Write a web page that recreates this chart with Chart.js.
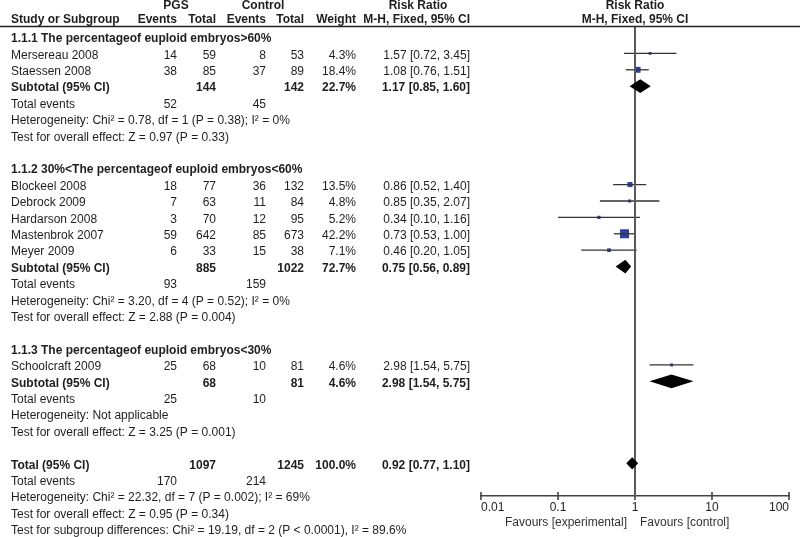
<!DOCTYPE html>
<html lang="en">
<head>
  <meta charset="UTF-8" />
  <title>Forest plot - PGS vs Control</title>
  <script src="https://cdn.jsdelivr.net/npm/chart.js@4.4.0/dist/chart.umd.min.js"></script>
  <style>
    html, body { margin: 0; padding: 0; background: #fff; }
    #wrap { width: 800px; height: 537px; }
  </style>
</head>
<body>
<div id="wrap"><canvas id="forest" width="800" height="537"></canvas></div>

<script>
// ---- data ----
const groupTitles = [
  '1.1.1 The percentageof euploid embryos>60%',
  '1.1.2 30%<The percentageof euploid embryos<60%',
  '1.1.3 The percentageof euploid embryos<30%'
];
const studies = ['Mersereau 2008', 'Staessen 2008', 'Blockeel 2008', 'Debrock 2009',
                 'Hardarson 2008', 'Mastenbrok 2007', 'Meyer 2009', 'Schoolcraft 2009'];
const groupOf    = [0, 0, 1, 1, 1, 1, 1, 2];
const pgsEvents  = [14, 38, 18, 7, 3, 59, 6, 25];
const pgsTotal   = [59, 85, 77, 63, 70, 642, 33, 68];
const ctrlEvents = [8, 37, 36, 11, 12, 85, 15, 10];
const ctrlTotal  = [53, 89, 132, 84, 95, 673, 38, 81];
const weights    = [4.3, 18.4, 13.5, 4.8, 5.2, 42.2, 7.1, 4.6];
const rr         = [1.57, 1.08, 0.86, 0.85, 0.34, 0.73, 0.46, 2.98];
const rrLow      = [0.72, 0.76, 0.52, 0.35, 0.10, 0.53, 0.20, 1.54];
const rrHigh     = [3.45, 1.51, 1.40, 2.07, 1.16, 1.00, 1.05, 5.75];

const subPgsTotal   = [144, 885, 68];
const subCtrlTotal  = [142, 1022, 81];
const subWeight     = [22.7, 72.7, 4.6];
const subRR         = [1.17, 0.75, 2.98];
const subLow        = [0.85, 0.56, 1.54];
const subHigh       = [1.60, 0.89, 5.75];
const subPgsEvents  = [52, 93, 25];
const subCtrlEvents = [45, 159, 10];
const subHetero = [
  'Heterogeneity: Chi\u00b2 = 0.78, df = 1 (P = 0.38); I\u00b2 = 0%',
  'Heterogeneity: Chi\u00b2 = 3.20, df = 4 (P = 0.52); I\u00b2 = 0%',
  'Heterogeneity: Not applicable'
];
const subOverall = [
  'Test for overall effect: Z = 0.97 (P = 0.33)',
  'Test for overall effect: Z = 2.88 (P = 0.004)',
  'Test for overall effect: Z = 3.25 (P = 0.001)'
];

const totPgsTotal = 1097, totCtrlTotal = 1245, totWeight = 100.0;
const totRR = 0.92, totLow = 0.77, totHigh = 1.10;
const totPgsEvents = 170, totCtrlEvents = 214;
const totNotes = [
  'Heterogeneity: Chi\u00b2 = 22.32, df = 7 (P = 0.002); I\u00b2 = 69%',
  'Test for overall effect: Z = 0.95 (P = 0.34)',
  'Test for subgroup differences: Chi\u00b2 = 19.19, df = 2 (P < 0.0001), I\u00b2 = 89.6%'
];

const xTicks = [0.01, 0.1, 1, 10, 100];
const xTickLabels = ['0.01', '0.1', '1', '10', '100'];

// ---- build the row list (row index = position down the table) ----
const rows = [];
groupTitles.forEach((title, g) => {
  rows.push({ kind: 'title', text: title });
  studies.forEach((s, k) => { if (groupOf[k] === g) rows.push({ kind: 'study', k }); });
  rows.push({ kind: 'sub', g });
  rows.push({ kind: 'events', a: subPgsEvents[g], b: subCtrlEvents[g] });
  rows.push({ kind: 'note', text: subHetero[g] });
  rows.push({ kind: 'note', text: subOverall[g] });
  rows.push({ kind: 'blank' });
});
rows.push({ kind: 'total' });
rows.push({ kind: 'events', a: totPgsEvents, b: totCtrlEvents });
totNotes.forEach(t => rows.push({ kind: 'note', text: t }));

const FONT = '"Liberation Sans", Arial, sans-serif';
const FS = 12;
const INK = '#1e1e1e';
const fmt = v => v.toFixed(2);
const ciText = (m, l, h) => `${fmt(m)} [${fmt(l)}, ${fmt(h)}]`;

// ---- datasets ----
const datasets = [];
const Y_MIN = -0.67, Y_MAX = 27.99;

// line of no effect
datasets.push({
  data: [{ x: 1, y: Y_MIN }, { x: 1, y: Y_MAX }],
  showLine: true, pointRadius: 0, borderColor: '#5a5a5a', borderWidth: 2
});

const squares = [];
const squareSizes = [];
const diamonds = [];
rows.forEach((r, i) => {
  if (r.kind === 'study') {
    const k = r.k;
    datasets.push({
      data: [{ x: rrLow[k], y: i }, { x: rrHigh[k], y: i }],
      showLine: true, pointRadius: 0, borderColor: '#333', borderWidth: 1.3
    });
    squares.push({ x: rr[k], y: i });
    squareSizes.push(0.98 * Math.sqrt(weights[k]));
  }
  if (r.kind === 'sub') {
    diamonds.push({ row: i, m: subRR[r.g], l: subLow[r.g], h: subHigh[r.g], hh: 0.42 });
  }
  if (r.kind === 'total') {
    diamonds.push({ row: i, m: totRR, l: totLow, h: totHigh, hh: 0.37 });
  }
});

datasets.push({
  data: squares, pointStyle: 'rect', pointRadius: squareSizes,
  backgroundColor: '#2f3fa3', borderColor: '#2f3fa3', borderWidth: 0
});

// decade tick marks crossing the axis
datasets.push({
  data: xTicks.map(v => ({ x: v, y: Y_MAX })),
  pointStyle: 'line', rotation: 90, pointRadius: 4,
  borderColor: '#444', borderWidth: 1.6, clip: false
});

// pooled estimates as diamonds, placed through the chart scales
const diamondPlugin = {
  id: 'diamonds',
  afterDatasetsDraw(chart) {
    const ctx = chart.ctx;
    const xs = chart.scales.x, ys = chart.scales.y;
    ctx.save();
    ctx.fillStyle = '#000';
    diamonds.forEach(d => {
      ctx.beginPath();
      ctx.moveTo(xs.getPixelForValue(d.l), ys.getPixelForValue(d.row));
      ctx.lineTo(xs.getPixelForValue(d.m), ys.getPixelForValue(d.row - d.hh));
      ctx.lineTo(xs.getPixelForValue(d.h), ys.getPixelForValue(d.row));
      ctx.lineTo(xs.getPixelForValue(d.m), ys.getPixelForValue(d.row + d.hh));
      ctx.closePath();
      ctx.fill();
    });
    ctx.restore();
  }
};

// ---- table text ----
const tablePlugin = {
  id: 'tableText',
  afterDraw(chart) {
    const ctx = chart.ctx;
    const ys = chart.scales.y, xs = chart.scales.x;
    const put = (t, x, y, align, bold) => {
      ctx.font = `${bold ? 'bold ' : ''}${FS}px ${FONT}`;
      ctx.textAlign = align;
      ctx.fillText(String(t), x, y);
    };
    ctx.save();
    ctx.fillStyle = INK;
    ctx.textBaseline = 'middle';

    // headers
    put('PGS', 176, 6, 'center', true);
    put('Control', 263, 6, 'center', true);
    put('Risk Ratio', 418, 6, 'center', true);
    put('Risk Ratio', xs.getPixelForValue(1), 6, 'center', true);
    put('Study or Subgroup', 11, 20, 'left', true);
    put('Events', 177, 20, 'right', true);
    put('Total', 216, 20, 'right', true);
    put('Events', 266, 20, 'right', true);
    put('Total', 304, 20, 'right', true);
    put('Weight', 356, 20, 'right', true);
    put('M-H, Fixed, 95% CI', 470, 20, 'right', true);
    put('M-H, Fixed, 95% CI', xs.getPixelForValue(1), 20, 'center', true);

    ctx.strokeStyle = '#222';
    ctx.lineWidth = 1.5;
    ctx.beginPath();
    ctx.moveTo(0, 26.5);
    ctx.lineTo(800, 26.5);
    ctx.stroke();

    rows.forEach((r, i) => {
      const y = ys.getPixelForValue(i) + 2;
      if (r.kind === 'title') put(r.text, 11, y, 'left', true);
      if (r.kind === 'note') put(r.text, 11, y, 'left', false);
      if (r.kind === 'events') {
        put('Total events', 11, y, 'left', false);
        put(r.a, 177, y, 'right', false);
        put(r.b, 266, y, 'right', false);
      }
      if (r.kind === 'study') {
        const k = r.k;
        put(studies[k], 11, y, 'left', false);
        put(pgsEvents[k], 177, y, 'right', false);
        put(pgsTotal[k], 216, y, 'right', false);
        put(ctrlEvents[k], 266, y, 'right', false);
        put(ctrlTotal[k], 304, y, 'right', false);
        put(weights[k].toFixed(1) + '%', 356, y, 'right', false);
        put(ciText(rr[k], rrLow[k], rrHigh[k]), 470, y, 'right', false);
      }
      if (r.kind === 'sub') {
        const g = r.g;
        put('Subtotal (95% CI)', 11, y, 'left', true);
        put(subPgsTotal[g], 216, y, 'right', true);
        put(subCtrlTotal[g], 304, y, 'right', true);
        put(subWeight[g].toFixed(1) + '%', 356, y, 'right', true);
        put(ciText(subRR[g], subLow[g], subHigh[g]), 470, y, 'right', true);
      }
      if (r.kind === 'total') {
        put('Total (95% CI)', 11, y, 'left', true);
        put(totPgsTotal, 216, y, 'right', true);
        put(totCtrlTotal, 304, y, 'right', true);
        put(totWeight.toFixed(1) + '%', 356, y, 'right', true);
        put(ciText(totRR, totLow, totHigh), 470, y, 'right', true);
      }
    });

    // axis captions
    const x1 = xs.getPixelForValue(1);
    const yb = chart.chartArea.bottom + 27;
    ctx.fillStyle = '#333';
    put('Favours [experimental]', x1 - 8, yb, 'right', false);
    put('Favours [control]', x1 + 5, yb, 'left', false);
    ctx.restore();
  }
};

new Chart(document.getElementById('forest').getContext('2d'), {
  type: 'scatter',
  data: { datasets },
  plugins: [diamondPlugin, tablePlugin],
  options: {
    responsive: false,
    animation: false,
    layout: { padding: { left: 481, right: 11, top: 26, bottom: 0 } },
    plugins: { legend: { display: false }, tooltip: { enabled: false } },
    scales: {
      x: {
        type: 'logarithmic',
        min: 0.01, max: 100,
        afterBuildTicks: s => { s.ticks = xTicks.map(v => ({ value: v })); },
        afterFit: s => { s.height = 41; },
        ticks: {
          callback: (v, i) => xTickLabels[i],
          align: 'inner', padding: 4, maxRotation: 0, autoSkip: false,
          color: '#222', font: { family: FONT, size: FS }
        },
        grid: { display: false, drawTicks: false },
        border: { display: true, color: '#444', width: 1.6 }
      },
      y: {
        type: 'linear', reverse: true, display: false,
        min: Y_MIN, max: Y_MAX
      }
    }
  }
});
</script>
</body>
</html>
